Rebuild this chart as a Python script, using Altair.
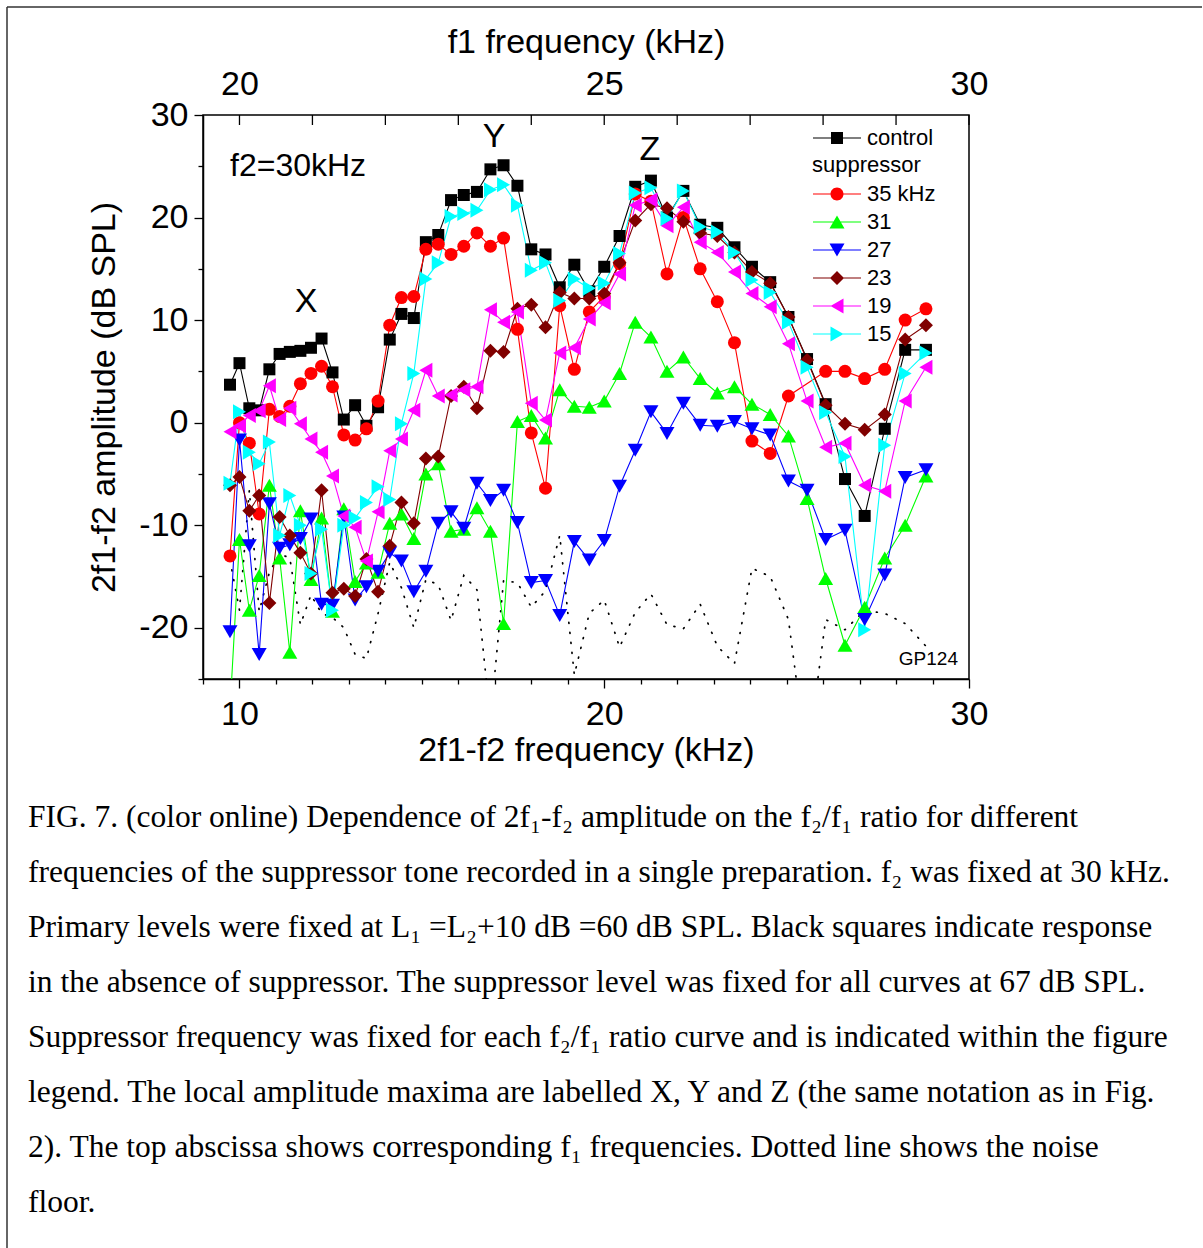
import altair as alt
import pandas as pd

# ---------------- data ----------------
fdp = [9.74, 10.00, 10.27, 10.54, 10.82, 11.10, 11.38, 11.67, 11.96, 12.25,
       12.55, 12.86, 13.17, 13.48, 13.80, 14.12, 14.44, 14.78, 15.11, 15.45,
       15.80, 16.15, 16.51, 16.88, 17.24, 17.62, 18.00, 18.39, 18.78, 19.18,
       19.59, 20.00, 20.42, 20.85, 21.28, 21.72, 22.17, 22.63, 23.10, 23.57,
       24.05, 24.55, 25.05, 25.56, 26.07, 26.60, 27.14, 27.69, 28.25, 28.82]

control = [3.7, 5.8, 1.4, 1.2, 5.2, 6.7, 6.9, 7.0, 7.3, 8.2,
           4.9, 0.3, 1.7, -0.3, 1.5, 8.1, 10.6, 10.2, 17.6, 18.3,
           21.7, 22.2, 22.5, 24.7, 25.1, 23.1, 16.9, 16.4, 13.2, 15.4,
           12.8, 15.2, 18.2, 23.0, 23.6, 20.0, 22.6, 19.3, 19.0, 17.1,
           15.2, 13.7, 10.3, 6.2, 1.8, -5.5, -9.1, -0.6, 7.1, 7.1]

s35 = [-13.0, 0.0, -2.0, -8.9, 1.3, 0.6, 1.6, 3.8, 4.8, 5.5,
       3.5, -1.2, -1.7, -0.6, 2.1, 9.5, 12.2, 12.3, 16.9, 17.4,
       16.4, 17.2, 18.5, 17.2, 18.0, 9.1, -1.0, -6.4, 11.4, 5.2,
       10.8, 12.3, 15.5, 22.3, 21.6, 14.5, 20.0, 15.0, 11.8, 7.8,
       -1.8, -3.0, 2.6, None, 5.0, 5.0, 4.3, 5.2, 10.0, 11.1]

s31 = [-28.0, -11.4, -18.3, -14.9, -6.1, -13.2, -22.4, -8.6, -15.3, -9.3,
       -18.4, -8.4, -15.5, -13.7, -14.6, -9.8, -8.9, -11.3, -5.0, -4.0,
       -10.6, -10.4, -8.3, -10.6, -19.6, 0.1, 0.7, -1.5, 3.2, 1.6,
       1.5, 2.1, 4.8, 9.8, 8.35, 5.0, 6.4, 4.3, 2.9, 3.5,
       1.8, 0.8, -1.3, -7.4, -15.2, -21.7, -18.0, -13.2, -10.0, -5.2]

s27 = [-20.4, -1.7, -12.0, -22.6, -7.9, -12.25, -11.9, -11.3, -9.4, -17.7,
       -17.8, -9.2, -17.3, -16.0, -14.5, -12.7, -13.5, -16.5, -14.5, -9.8,
       -8.7, -10.3, -5.9, -7.6, -6.6, -9.75, -15.6, -15.4, -18.8, -11.6,
       -13.4, -11.5, -6.2, -2.7, 1.05, -1.05, 1.9, -0.25, -0.35, 0.1,
       -0.6, -1.2, -5.7, -6.6, -11.4, -10.5, -19.2, -14.85, -5.35, -4.6]

s23 = [-6.1, -5.3, -8.6, -7.1, -17.6, -9.2, -11.0, -12.7, -14.7, -6.6,
       -16.6, -16.2, -16.9, -13.3, -16.5, -12.0, -7.8, -9.8, -3.5, -3.3,
       2.6, 3.5, 1.4, 7.0, 6.9, 11.1, 11.5, 9.3, 12.7, 12.1,
       12.1, 12.6, 15.6, 19.7, 21.3, 20.9, 19.6, 18.5, 18.2, 16.6,
       14.7, 13.6, 10.3, 6.1, 1.7, -0.1, -0.7, 0.8, 8.1, 9.5]

s19 = [-0.9, -0.3, 0.7, 1.15, 3.6, 0.3, 1.4, -0.1, -1.6, -2.9,
       -5.2, -9.1, -10.2, -13.5, -8.7, -2.75, -1.6, 1.2, 5.1, 2.6,
       2.7, 3.2, 3.5, 11.0, 9.8, 10.8, 1.9, 0.25, 6.8, 7.3,
       10.1, 11.7, 14.5, 21.2, 21.7, 19.2, 21.0, 17.6, 16.6, 14.7,
       12.6, 11.3, 7.7, 2.1, -2.4, -2.0, -6.1, -6.7, 2.1, 5.4]

s15 = [-5.9, 1.05, -2.9, -4.0, -1.9, -11.0, -7.1, -10.0, -14.7, -10.4,
       -18.3, -10.0, -9.3, -7.8, -6.25, -7.5, -0.1, 4.8, 14.0, 15.6,
       20.1, 20.4, 20.7, 22.7, 23.2, 21.2, 14.85, 15.6, 11.9, 14.0,
       13.1, 13.6, 16.5, 22.4, 22.9, 19.9, 22.6, 19.1, 18.6, 16.6,
       13.9, 12.7, 9.8, 5.4, 1.0, -3.3, -20.2, -2.2, 4.8, 6.8]

noise = [-13.4, -18.3, -6.6, -18.4, -14.6, -12.8, -13.2, -19.7, -16.8, -18.6,
         -19.0, -20.0, -22.6, -23.0, -18.6, -13.6, -16.1, -20.0, -15.3, -15.8,
         -19.3, -14.9, -16.3, -29.0, -15.4, -15.6, -18.0, -16.4, -11.0, -24.6,
         -18.6, -17.3, -21.9, -18.5, -16.7, -19.7, -20.1, -17.7, -21.8, -23.5,
         -14.2, -15.0, -19.2, -33.0, -19.2, -20.2, -18.3, -18.6, -19.6, -21.8]

series_names = ["control", "35 kHz", "31", "27", "23", "19", "15"]
series_values = [control, s35, s31, s27, s23, s19, s15]
series_colors = ["#000000", "#ff0000", "#00ff00", "#0000ff", "#800000", "#ff00ff", "#00ffff"]
series_shapes = ["square", "circle", "triangle-up", "triangle-down", "diamond",
                 "triangle-left", "triangle-right"]
series_sizes = [144, 169, 225, 225, 196, 225, 225]

f1_ticks = [20, 21, 22, 23, 24, 25, 26, 27, 28, 29, 30]
x_ticks = list(range(9, 31))
y_ticks = list(range(-25, 31, 5))

caption_lines = [
    "FIG. 7. (color online) Dependence of 2f\u2081-f\u2082 amplitude on the f\u2082/f\u2081 ratio for different",
    "frequencies of the suppressor tone recorded in a single preparation. f\u2082 was fixed at 30 kHz.",
    "Primary levels were fixed at L\u2081 =L\u2082+10 dB =60 dB SPL. Black squares indicate response",
    "in the absence of suppressor. The suppressor level was fixed for all curves at 67 dB SPL.",
    "Suppressor frequency was fixed for each f\u2082/f\u2081 ratio curve and is indicated within the figure",
    "legend. The local amplitude maxima are labelled X, Y and Z (the same notation as in Fig.",
    "2). The top abscissa shows corresponding f\u2081 frequencies. Dotted line shows the noise",
    "floor.",
]

# ---------------- tables ----------------
rows = []
for name, vals in zip(series_names, series_values):
    for xv, yv in zip(fdp, vals):
        if yv is not None:
            rows.append({"series": name, "fdp": xv, "amp": yv})
df = pd.DataFrame(rows)
noise_df = pd.DataFrame({"fdp": fdp, "amp": noise})
top_df = pd.DataFrame({"f1": f1_ticks})
one = pd.DataFrame({"k": [0]})

SANS = "Liberation Sans"
SERIF = "Liberation Serif"
W, H = 766, 564

xs = alt.Scale(domain=[9, 30], nice=False, zero=False)
ys = alt.Scale(domain=[-25, 30], nice=False, zero=False)

color_scale = alt.Scale(domain=series_names, range=series_colors)
shape_scale = alt.Scale(domain=series_names, range=series_shapes)
size_scale = alt.Scale(type="ordinal", domain=series_names, range=series_sizes)

LINE = "M-2.4,-0.06H2.4V0.06H-2.4Z "
legend_paths = [
    LINE + "M-0.6,-0.6H0.6V0.6H-0.6Z",
    LINE + "M-0.65,0A0.65,0.65 0 1,1 0.65,0A0.65,0.65 0 1,1 -0.65,0Z",
    LINE + "M0,-0.65L0.75,0.65L-0.75,0.65Z",
    LINE + "M-0.75,-0.65L0.75,-0.65L0,0.65Z",
    LINE + "M0,-0.7L0.7,0L0,0.7L-0.7,0Z",
    LINE + "M-0.65,0L0.65,-0.75L0.65,0.75Z",
    LINE + "M0.65,0L-0.65,0.75L-0.65,-0.75Z",
]

x_axis = alt.Axis(
    values=x_ticks,
    labelExpr="datum.value % 10 === 0 ? datum.label : ''",
    tickSize={"condition": {"test": "datum.value % 10 === 0", "value": 9}, "value": 5},
    title="2f1-f2 frequency (kHz)",
    labelPadding=9, titlePadding=2,
)
y_axis = alt.Axis(
    values=y_ticks,
    labelExpr="datum.value % 10 === 0 ? replace(datum.label, '\u2212', '-') : ''",
    tickSize={"condition": {"test": "datum.value % 10 === 0", "value": 9}, "value": 5},
    title="2f1-f2 amplitude (dB SPL)",
    labelPadding=6, titlePadding=17,
)

xn = alt.X("fdp:Q", scale=xs, axis=None)
ya = alt.Y("amp:Q", scale=ys, axis=y_axis)

noise_layer = alt.Chart(noise_df).mark_line(
    color="black", strokeWidth=1.7, strokeDash=[1, 9], strokeCap="round", clip=True
).encode(
    x=alt.X("fdp:Q", scale=xs, axis=x_axis),
    y=ya,
)

lines = alt.Chart(df).mark_line(strokeWidth=1.1, clip=True).encode(
    x=xn, y=ya,
    color=alt.Color("series:N", scale=color_scale, legend=None),
    order="fdp:Q",
)

points = alt.Chart(df).mark_point(filled=True, opacity=1, strokeWidth=0, clip=True).encode(
    x=xn, y=ya,
    color=alt.Color("series:N", scale=color_scale, legend=None),
    shape=alt.Shape("series:N", scale=shape_scale, legend=None),
    size=alt.Size("series:N", scale=size_scale, legend=None),
)

leg_common = dict(
    orient="none", legendX=609, symbolSize=400, symbolStrokeWidth=0, symbolOffset=14,
    labelOffset=19, labelFont=SANS, labelFontSize=22, labelColor="black",
    rowPadding=6, padding=0,
)
ctrl_leg = dict(leg_common, legendY=12, title=None)
supp_leg = dict(leg_common, legendY=40, title="suppressor", titleFont=SANS,
                titleFontSize=22, titleFontWeight="normal", titleColor="black",
                titlePadding=6)

ctrl_legend_layer = alt.Chart(df).transform_filter(
    "datum.series === 'control'"
).transform_calculate(amp="-1000").mark_point(
    filled=True, opacity=1, strokeWidth=0, clip=True
).encode(
    x=xn, y=ya,
    color=alt.Color("series:N", scale=alt.Scale(domain=series_names[:1], range=series_colors[:1]),
                    legend=alt.Legend(**ctrl_leg)),
    shape=alt.Shape("series:N", scale=alt.Scale(domain=series_names[:1], range=legend_paths[:1]),
                    legend=alt.Legend(**ctrl_leg)),
)

supp_legend_layer = alt.Chart(df).transform_filter(
    "datum.series !== 'control'"
).transform_calculate(amp="-1000").mark_point(
    filled=True, opacity=1, strokeWidth=0, clip=True
).encode(
    x=xn, y=ya,
    color=alt.Color("series:N", scale=alt.Scale(domain=series_names[1:], range=series_colors[1:]),
                    legend=alt.Legend(**supp_leg)),
    shape=alt.Shape("series:N", scale=alt.Scale(domain=series_names[1:], range=legend_paths[1:]),
                    legend=alt.Legend(**supp_leg)),
)

top_layer = alt.Chart(top_df).mark_rule(color="black", strokeWidth=1.3).encode(
    x=alt.X("f1:Q", scale=alt.Scale(domain=[19.5, 30], nice=False, zero=False),
            axis=alt.Axis(orient="top", values=[20, 25, 30], ticks=False, domain=False,
                          title="f1 frequency (kHz)", labelPadding=14, titlePadding=8)),
    y=alt.value(0), y2=alt.value(10),
)

def label(txt, x, y, size, align="center", font=SANS, baseline="middle", **kw):
    return alt.Chart(one).mark_text(
        text=txt, font=font, fontSize=size, color="black", align=align, baseline=baseline, **kw
    ).encode(x=alt.value(x), y=alt.value(y))

annots = [
    label("f2=30kHz", 27, 51, 32, "left"),
    label("X", 103, 187, 34),
    label("Y", 291, 22, 34),
    label("Z", 447, 35, 34),
    label("GP124", 755, 544, 19, "right"),
    label(caption_lines, -175, 712, 31.5, "left", font=SERIF, baseline="alphabetic", lineHeight=55),
]

border_left = alt.Chart(one).mark_rule(color="#333333", strokeWidth=1.5).encode(
    x=alt.value(-196), y=alt.value(-108), y2=alt.value(1133))
border_top = alt.Chart(one).mark_rule(color="#333333", strokeWidth=1.5).encode(
    x=alt.value(-196), x2=alt.value(999), y=alt.value(-108))

chart = alt.layer(
    noise_layer, lines, points, ctrl_legend_layer, supp_legend_layer, top_layer,
    *annots, border_left, border_top,
).resolve_scale(
    x="independent", color="independent", shape="independent", size="independent"
).resolve_axis(x="independent").properties(
    width=W, height=H,
    padding={"left": 6, "top": 6, "right": 0, "bottom": 0},
).configure_view(
    stroke="black", strokeWidth=1.5
).configure_axis(
    labelFont=SANS, labelFontSize=34, labelColor="black",
    titleFont=SANS, titleFontSize=34, titleFontWeight="normal", titleColor="black",
    domainColor="black", domainWidth=1.5, tickColor="black", tickWidth=1.3,
    grid=False, labelFlush=False, labelOverlap=False,
)

chart.save("out.html", embed_options={"renderer": "svg", "actions": False})
